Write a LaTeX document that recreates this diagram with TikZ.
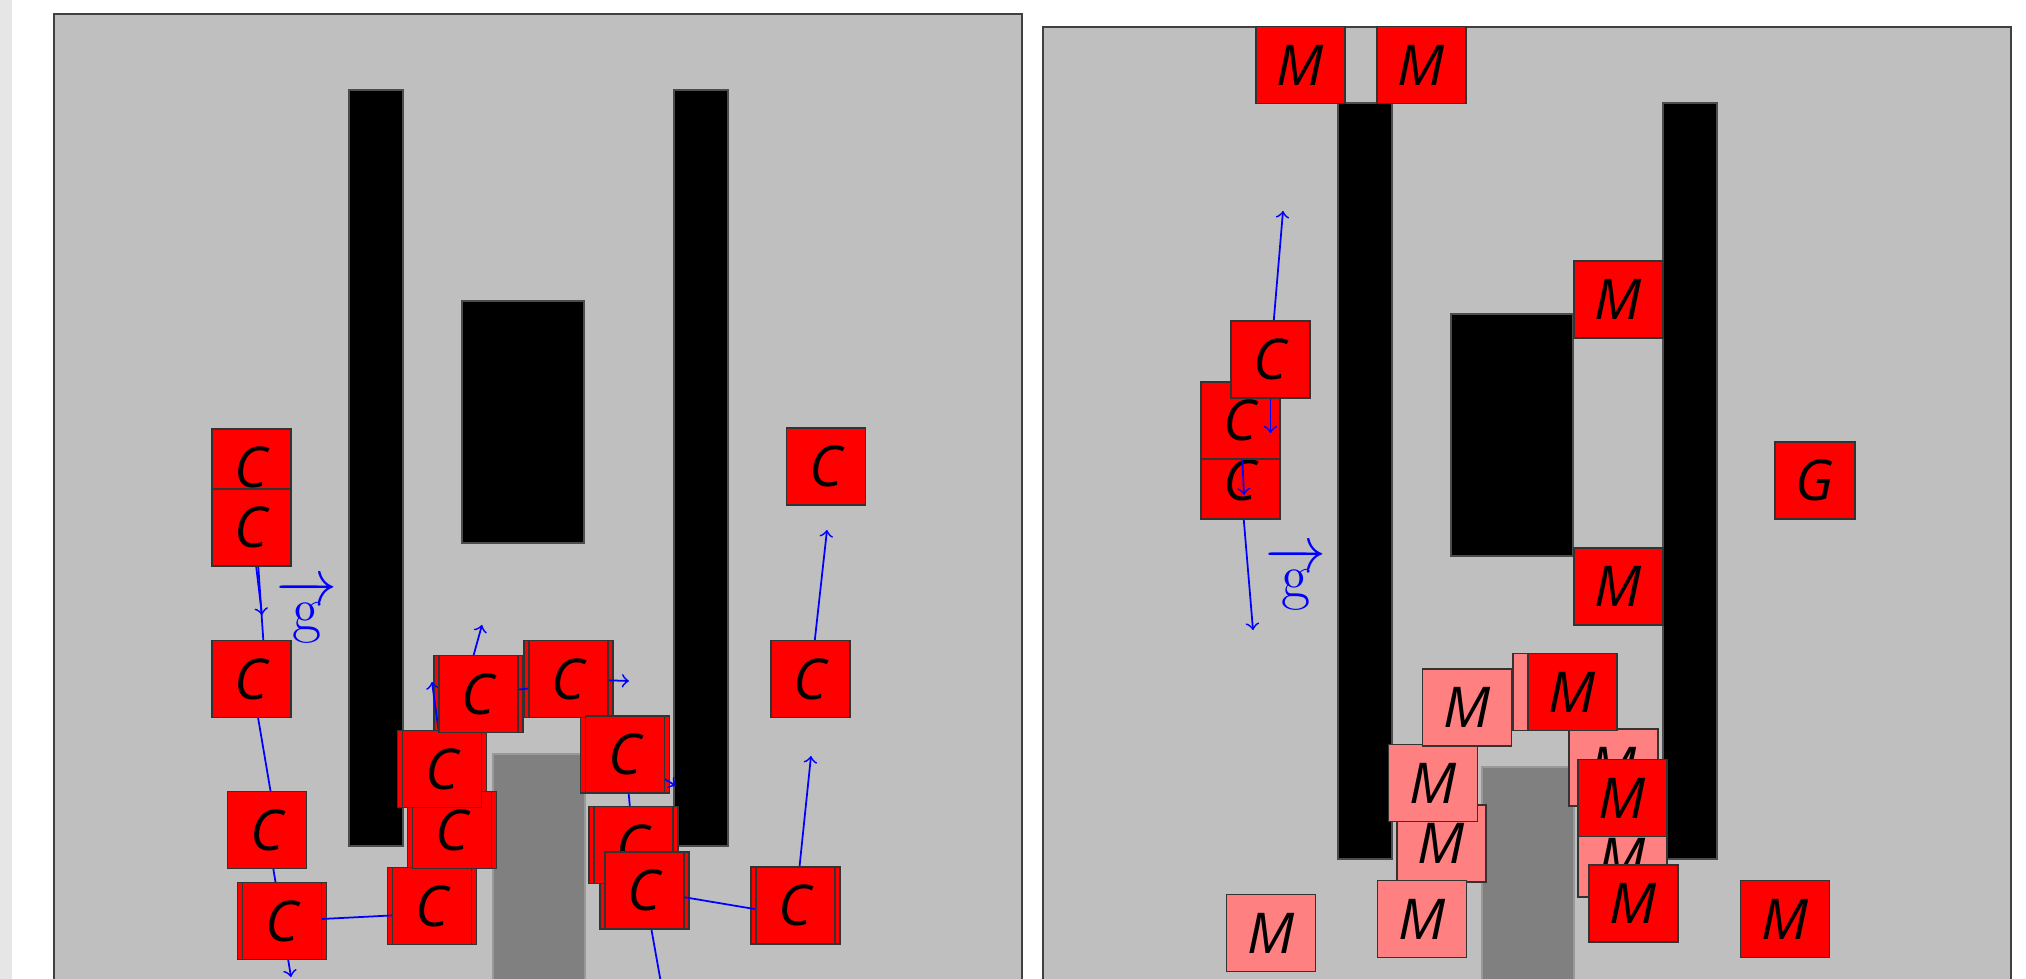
\documentclass[tikz,border=0pt]{standalone}
\usepackage{fontspec}
\usepackage{amsmath}
\newfontfamily\boxfont{Open Sans}
\definecolor{panelbg}{HTML}{BFBFBF}
\definecolor{obstgray}{HTML}{808080}
\definecolor{stripgray}{HTML}{E6E6E6}
\definecolor{pinkm}{HTML}{FF8080}
\tikzset{
  panel/.style={fill=panelbg, draw=black!75, line width=0.4pt},
  wall/.style={fill=black, draw=black!70, line width=0.3pt},
  pit/.style={fill=obstgray, draw=black!40, line width=0.3pt},
  agent/.style={draw=black!80, line width=0.4pt, inner sep=0pt, minimum height=0.77cm,
    font=\boxfont\itshape\fontsize{16}{16}\selectfont},
  cbox/.style={agent, fill=red, minimum width=0.79cm},
  gbox/.style={agent, fill=red, minimum width=0.80cm},
  mbox/.style={agent, fill=red, minimum width=0.89cm},
  pbox/.style={agent, fill=pinkm, minimum width=0.89cm},
  obox/.style={agent, fill=red, minimum width=0.89cm},
  vel/.style={blue, line width=0.5pt, ->},
  trace/.style={blue, line width=0.5pt},
  glabel/.style={text=blue, inner sep=0pt, font=\fontsize{18}{19}\selectfont}
}
\begin{document}
\begin{tikzpicture}[x=0.01cm, y=-0.01cm]
\useasboundingbox (0,0) rectangle (2026,979);
\clip (0,0) rectangle (2026,979);
\fill[white] (0,0) rectangle (2026,979);
\fill[stripgray] (0,0) rectangle (12,979);

% ---------------- left panel ----------------
\draw[panel] (54,14) rectangle (1022,1010);
\draw[wall] (349,90) rectangle (403,846);
\draw[wall] (674,90) rectangle (728,846);
\draw[wall] (462,301) rectangle (584,543);
\draw[pit] (493,754) rectangle (585,1010);

\coordinate (pa) at (251.5,467.5);
\coordinate (pb) at (251.5,527.5);
\coordinate (pc) at (251.5,679);
\coordinate (pd) at (267,830);
\coordinate (pe) at (282,921);
\coordinate (pf) at (432,906);
\coordinate (pg) at (452,830);
\coordinate (ph) at (442,769);
\coordinate (pi) at (478.5,694);
\coordinate (pj) at (568.5,679);
\coordinate (pk) at (625,754.5);
\coordinate (pl) at (633.5,845);
\coordinate (pm) at (644.5,890.5);
\coordinate (pn) at (795.5,905.5);
\coordinate (po) at (810.5,679);
\coordinate (pp) at (826,466.5);

\coordinate (ea) at (264,650);
\coordinate (eb) at (262,615);
\coordinate (ec) at (278,835);
\coordinate (ed) at (291,977);
\coordinate (ee) at (440,913);
\coordinate (eg) at (432,682);
\coordinate (eh) at (482,625);
\coordinate (ei) at (560,685);
\coordinate (ej) at (629,681);
\coordinate (ek) at (676,786);
\coordinate (em) at (790,915);
\coordinate (emb) at (664,1000);
\coordinate (en) at (811,756);
\coordinate (eo) at (827,530);

% wider boxes underneath
\node[obox] (oe) at (pe) {};
\node[obox] (of) at (pf) {};
\node[obox] (og) at (pg) {};
\node[obox] (oh) at (ph) {};
\node[obox] (oi) at (pi) {};
\node[obox] (oj) at (pj) {};
\node[obox] (ok) at (pk) {};
\node[obox] (ol) at (pl) {};
\node[obox] (om) at (pm) {};
\node[obox] (on) at (pn) {};

\draw[trace] (pa) -- (ea);
\node[cbox] (ca) at (pa) {C};
\draw[vel] (pb) -- (eb);
\node[cbox] (cb) at (pb) {C};
\draw[trace] (pc) -- (ec);
\node[cbox] (cc) at (pc) {C};
\draw[vel] (pd) -- (ed);
\node[cbox] (cd) at (pd) {C};
\draw[trace] (pe) -- (ee);
\node[cbox] (ce) at (pe) {C};
\node[cbox] (cf) at (pf) {C};
\draw[vel] (pg) -- (eg);
\node[cbox] (cg) at (pg) {C};
\draw[vel] (ph) -- (eh);
\node[cbox] (ch) at (ph) {C};
\draw[trace] (pi) -- (ei);
\node[cbox] (ci) at (pi) {C};
\draw[vel] (pj) -- (ej);
\node[cbox] (cj) at (pj) {C};
\draw[vel] (pk) -- (ek);
\draw[trace] (pk) -- (pl);
\node[cbox] (ck) at (pk) {C};
\node[cbox] (cl) at (pl) {C};
\draw[trace] (pm) -- (em);
\draw[trace] (pm) -- (emb);
\node[cbox] (cm) at (pm) {C};
\draw[vel] (pn) -- (en);
\node[cbox] (cn) at (pn) {C};
\draw[vel] (po) -- (eo);
\node[cbox] (co) at (po) {C};
\node[cbox] (cp) at (pp) {C};

\node[glabel] (gleft) at (307,612) {$\overrightarrow{\mathrm{g}}$};

% ---------------- right panel ----------------
\draw[panel] (1043,27) rectangle (2011,1010);
\draw[wall] (1338,103) rectangle (1392,859);
\draw[wall] (1663,103) rectangle (1717,859);
\draw[wall] (1451,314) rectangle (1573,556);
\draw[pit] (1482,767) rectangle (1574,1010);

% earlier positions
\node[pbox] (q3) at (1441.5,843.5) {M};
\node[pbox] (q2) at (1433,783) {M};
\node[pbox] (q4) at (1422,919) {M};
\node[pbox] (q1) at (1467,707.5) {M};
\node[pbox] (q5) at (1271,933) {M};
\node[pbox] (q6) at (1557.5,692) {M};
\node[pbox] (q7) at (1613.5,767.5) {M};
\node[pbox] (q8) at (1622.5,858.5) {M};

% current positions
\node[mbox] (m1) at (1300.5,65) {M};
\node[mbox] (m2) at (1421.5,65) {M};
\node[mbox] (m3) at (1618.5,299.5) {M};
\node[mbox] (m4) at (1618.5,586.5) {M};
\node[mbox] (m5) at (1572.5,692) {M};
\node[mbox] (m6) at (1622.5,798) {M};
\node[mbox] (m7) at (1633.5,903.5) {M};
\node[mbox] (m8) at (1785,919) {M};

\node[gbox] (goal) at (1815,480.5) {G};

\coordinate (r3) at (1240.5,480.5);
\coordinate (r2) at (1240.5,420.5);
\coordinate (r1) at (1270.5,359.5);
\coordinate (s3) at (1253,630);
\coordinate (s2) at (1244,495);
\coordinate (s1) at (1270.5,433);
\coordinate (s1u) at (1283,211);

\draw[vel] (r3) -- (s3);
\node[cbox] (k3) at (r3) {C};
\draw[vel] (r2) -- (s2);
\node[cbox] (k2) at (r2) {C};
\draw[vel] (r1) -- (s1);
\draw[vel] (r1) -- (s1u);
\node[cbox] (k1) at (r1) {C};

\node[glabel] (gright) at (1296,579) {$\overrightarrow{\mathrm{g}}$};
\end{tikzpicture}
\end{document}
